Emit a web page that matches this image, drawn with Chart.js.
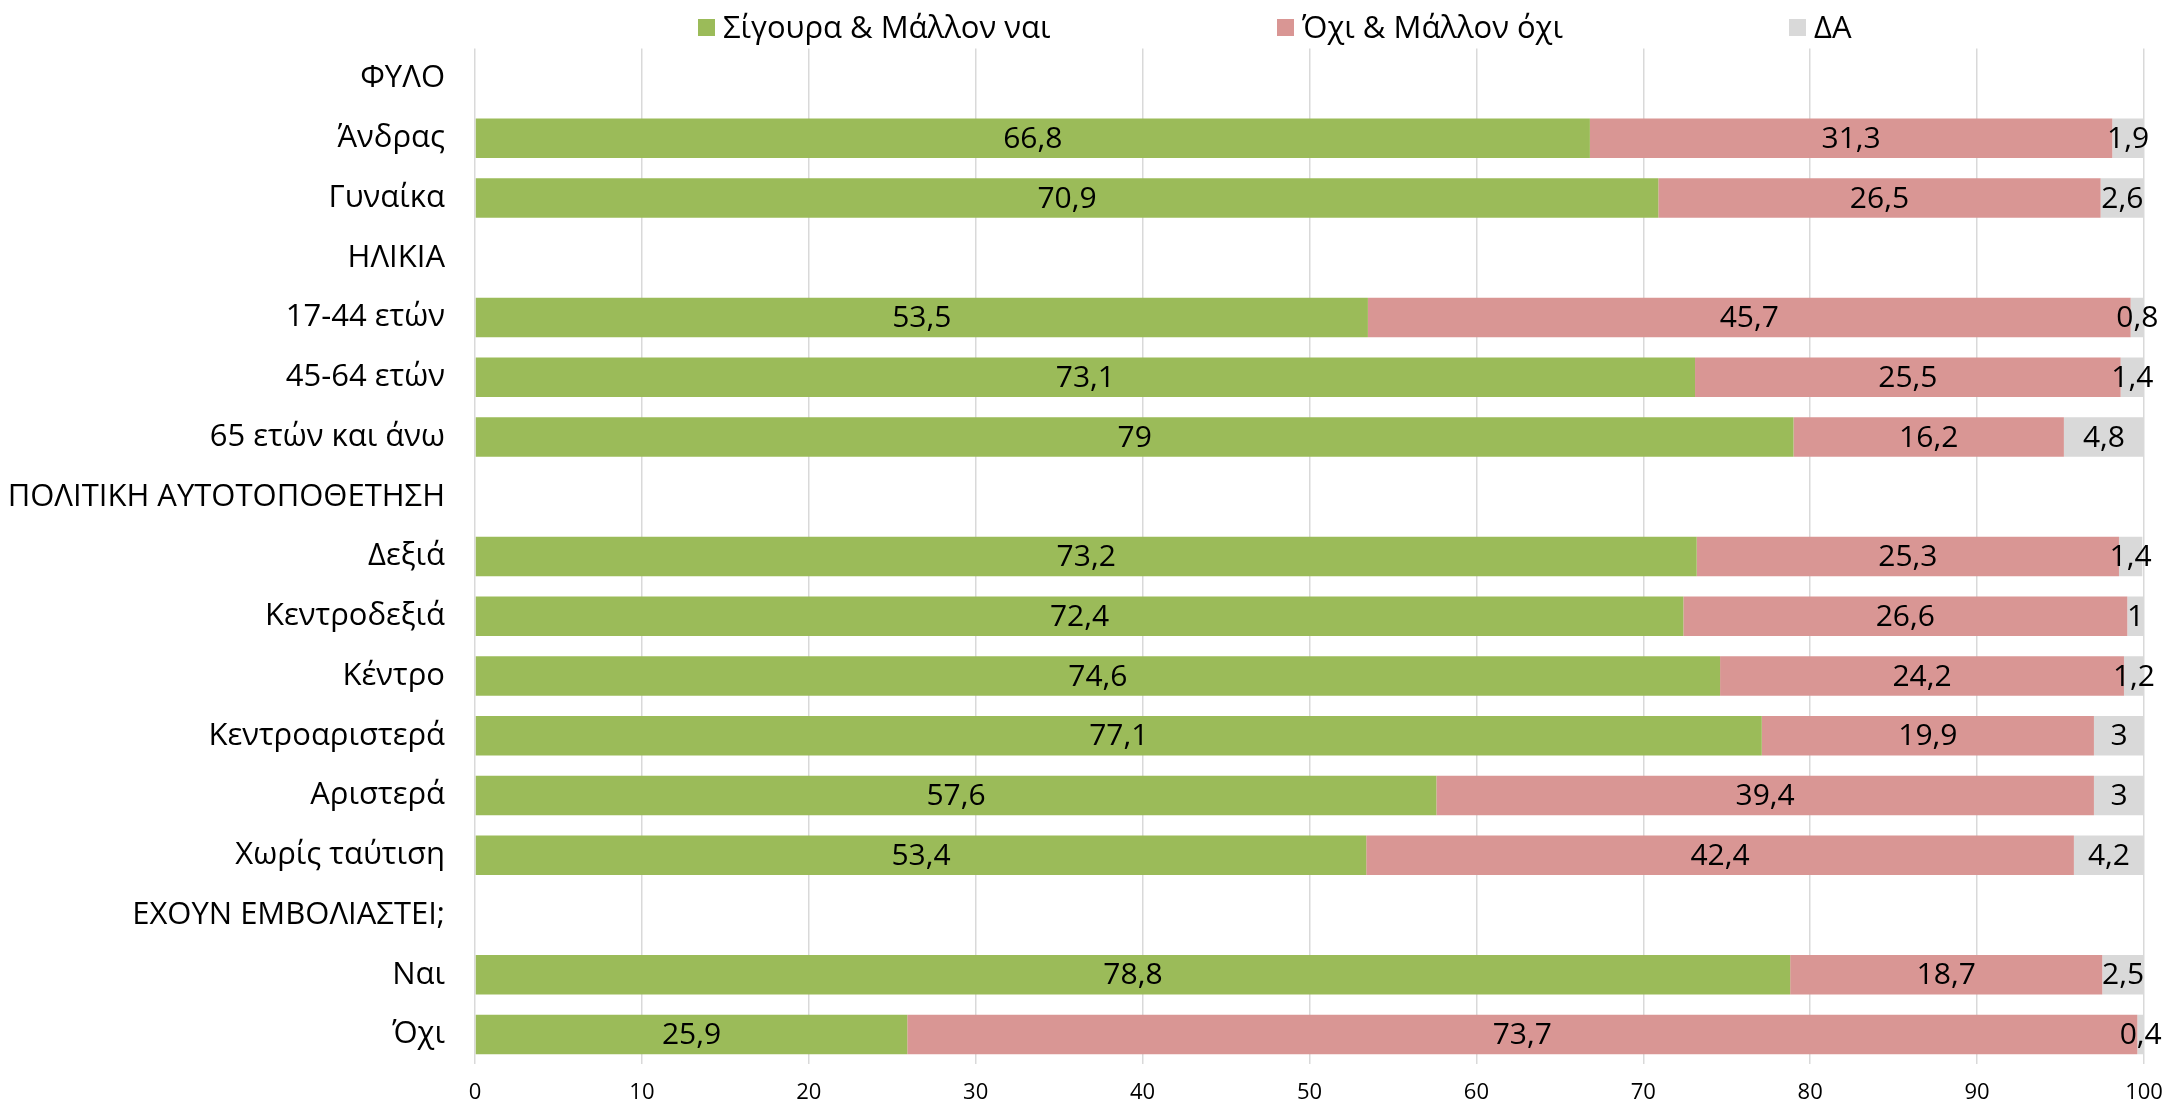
<!DOCTYPE html>
<html>
<head>
<meta charset="utf-8">
<script src="https://cdn.jsdelivr.net/npm/chart.js@4/dist/chart.umd.min.js"></script>
<style>
    body { margin: 0; background: #fff; }
    #wrap { position: relative; width: 2166px; height: 1113px; }
    #legend { position: absolute; top: 0; left: 0; width: 2166px; height: 42px; font-family: "Open Sans", "Noto Sans", sans-serif; font-size: 31px; color: #000; }
    .item { position: absolute; top: 6px; white-space: nowrap; line-height: 40px; }
    .box { display: inline-block; width: 17px; height: 17px; margin-right: 8px; vertical-align: 2px; }
</style>
</head>
<body>
<div id="wrap">
    <canvas id="chart"></canvas>
    <div id="legend"></div>
</div>
<script>
// categories, top to bottom (header rows have no values)
const categories = ["ΦΥΛΟ", "Άνδρας", "Γυναίκα", "ΗΛΙΚΙΑ", "17-44 ετών", "45-64 ετών", "65 ετών και άνω",
    "ΠΟΛΙΤΙΚΗ ΑΥΤΟΤΟΠΟΘΕΤΗΣΗ", "Δεξιά", "Κεντροδεξιά", "Κέντρο", "Κεντροαριστερά", "Αριστερά", "Χωρίς ταύτιση",
    "ΕΧΟΥΝ ΕΜΒΟΛΙΑΣΤΕΙ;", "Ναι", "Όχι"]

const seriesNames = ["Σίγουρα & Μάλλον ναι", "Όχι & Μάλλον όχι", "ΔΑ"]

const yesValues = [null, 66.8, 70.9, null, 53.5, 73.1, 79, null, 73.2, 72.4, 74.6, 77.1, 57.6, 53.4, null, 78.8, 25.9]
const noValues = [null, 31.3, 26.5, null, 45.7, 25.5, 16.2, null, 25.3, 26.6, 24.2, 19.9, 39.4, 42.4, null, 18.7, 73.7]
const dkValues = [null, 1.9, 2.6, null, 0.8, 1.4, 4.8, null, 1.4, 1, 1.2, 3, 3, 4.2, null, 2.5, 0.4]

const xTicks = [0, 10, 20, 30, 40, 50, 60, 70, 80, 90, 100]

const colors = ["#9BBB59", "#D99694", "#D9D9D9"]
const legendLeft = [698, 1277, 1789]

const FONT = "'Open Sans', 'Noto Sans', sans-serif"

// html legend, Excel spreads the items unevenly
let legendHtml = ""
seriesNames.forEach((name, i) => {
    legendHtml += `<div class="item" style="left:${legendLeft[i]}px"><span class="box" style="background:${colors[i]}"></span>${name}</div>`
})
document.getElementById("legend").innerHTML = legendHtml

const valueLabels = {
    id: "valueLabels",
    afterDatasetsDraw(chart) {
        const ctx = chart.ctx
        ctx.save()
        ctx.font = `30px ${FONT}`
        ctx.fillStyle = "#000"
        ctx.textAlign = "center"
        ctx.textBaseline = "middle"
        chart.data.datasets.forEach((ds, di) => {
            const meta = chart.getDatasetMeta(di)
            meta.data.forEach((bar, i) => {
                const v = ds.data[i]
                if (v === null || v === undefined) return
                const x = (bar.x + bar.base) / 2
                ctx.fillText(String(v).replace(".", ","), x, bar.y + 1)
            })
        })
        ctx.restore()
    }
}

const canvas = document.getElementById("chart")
canvas.width = 2166
canvas.height = 1113

new Chart(canvas.getContext("2d"), {
    type: "bar",
    data: {
        labels: categories,
        datasets: [
            { label: seriesNames[0], data: yesValues, backgroundColor: colors[0] },
            { label: seriesNames[1], data: noValues, backgroundColor: colors[1] },
            { label: seriesNames[2], data: dkValues, backgroundColor: colors[2] }
        ]
    },
    options: {
        indexAxis: "y",
        responsive: false,
        animation: false,
        layout: { padding: { top: 42, right: 22, bottom: 0, left: 0 } },
        datasets: { bar: { barPercentage: 0.66, categoryPercentage: 1 } },
        plugins: {
            legend: { display: false },
            tooltip: { enabled: false }
        },
        scales: {
            x: {
                stacked: true,
                min: 0,
                max: 100,
                afterBuildTicks: scale => { scale.ticks = xTicks.map(v => ({ value: v })) },
                afterFit: scale => {
                    scale.height = 43
                    scale.paddingLeft = 0
                    scale.paddingRight = 0
                },
                grid: { color: "#D9D9D9", lineWidth: 1.5, drawTicks: false },
                border: { display: false },
                ticks: { color: "#000", font: { family: FONT, size: 22 }, padding: 15, maxRotation: 0 }
            },
            y: {
                stacked: true,
                afterFit: scale => { scale.width = 475 },
                grid: { display: false, drawTicks: false },
                border: { display: false },
                ticks: { color: "#000", font: { family: FONT, size: 31 }, padding: 30, autoSkip: false }
            }
        }
    },
    plugins: [valueLabels]
})
</script>
</body>
</html>
